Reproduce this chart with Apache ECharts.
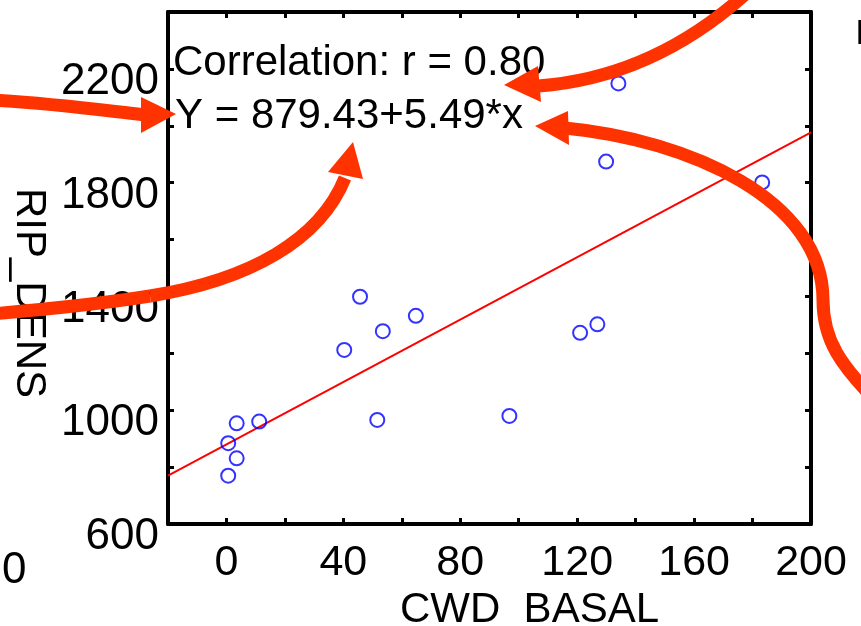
<!DOCTYPE html>
<html>
<head>
<meta charset="utf-8">
<script src="https://cdn.jsdelivr.net/npm/echarts@6/dist/echarts.min.js"></script>
<style>
html,body{margin:0;padding:0;background:#fff;}
#c{width:861px;height:626px;}
</style>
</head>
<body>
<div id="c"></div>
<script>
// ---- data ----
const cwdBasal = [134.1, 129.9, 183.3, 45.7, 64.8, 53.5, 40.3, 126.9, 121.0, 96.8, 51.6, 11.2, 3.5, 0.6, 3.5, 0.6];
const ripDens  = [2149, 1874, 1801, 1399, 1332, 1278, 1212, 1302, 1272, 980, 966, 960, 954, 884, 831, 770];
const fitX = [-20, 200];
const fitY = [770, 1977];
const xRange = [-20, 200];
const yRange = [600, 2400];
const xTickStep = 20, xLabelStep = 40;
const yTickStep = 200, yLabelStep = 400;
const corrText = 'Correlation: r = 0.80';
const eqText = 'Y = 879.43+5.49*x';
const xName = 'CWD  BASAL';
const yName = 'RIP_DENS';

const FONT = '"Liberation Sans", Arial, Helvetica, sans-serif';
const ARROW = '#ff3300';

const points = cwdBasal.map((x, i) => [x, ripDens[i]]);
const fitLine = fitX.map((x, i) => [x, fitY[i]]);

const lineStyle = {color: '#000', width: 4};
const tickStyle = {show: true, inside: true, length: 6, lineStyle: {color: '#000', width: 3}};

function arrowPath(p, w) {
  return {type: 'bezierCurve', z: 100, shape: {x1: p[0], y1: p[1], cpx1: p[2], cpy1: p[3], cpx2: p[4], cpy2: p[5], x2: p[6], y2: p[7]},
          style: {stroke: ARROW, lineWidth: w || 13, fill: null}};
}
function arrowHead(pts) {
  return {type: 'polygon', z: 101, shape: {points: pts}, style: {fill: ARROW}};
}

const chart = echarts.init(document.getElementById('c'), null, {renderer: 'canvas'});
chart.setOption({
  animation: false,
  backgroundColor: '#fff',
  grid: {left: 168, right: 50, top: 12, bottom: 102, containLabel: false, outerBoundsMode: 'none'},
  xAxis: [{
    type: 'value', position: 'bottom', min: xRange[0], max: xRange[1], interval: xTickStep,
    axisLine: {show: true, onZero: false, lineStyle: lineStyle}, axisTick: tickStyle, splitLine: {show: false},
    axisLabel: {color: '#000', fontSize: 43, fontFamily: FONT, margin: 18,
      formatter: v => (v >= 0 && v % xLabelStep === 0) ? String(v) : ''},
    name: xName, nameLocation: 'middle', nameGap: 60,
    nameTextStyle: {color: '#000', fontSize: 42, fontFamily: FONT, padding: [0, 0, 0, 80]}
  }, {
    type: 'value', position: 'top', min: xRange[0], max: xRange[1], interval: xTickStep,
    axisLine: {show: true, onZero: false, lineStyle: lineStyle}, axisTick: tickStyle, splitLine: {show: false},
    axisLabel: {show: false}
  }],
  yAxis: [{
    type: 'value', position: 'left', min: yRange[0], max: yRange[1], interval: yTickStep,
    axisLine: {show: true, onZero: false, lineStyle: lineStyle}, axisTick: tickStyle, splitLine: {show: false},
    axisLabel: {color: '#000', fontSize: 44, fontFamily: FONT, margin: 9, verticalAlign: 'top', lineHeight: 26,
      formatter: v => ((v - yRange[0]) % yLabelStep === 0 && v < yRange[1]) ? String(v) : ''},
    name: yName, nameLocation: 'middle', nameGap: 118, nameRotate: -90,
    nameTextStyle: {color: '#000', fontSize: 42, fontFamily: FONT, padding: [0, 0, 0, 50]}
  }, {
    type: 'value', position: 'right', min: yRange[0], max: yRange[1], interval: yTickStep,
    axisLine: {show: true, onZero: false, lineStyle: lineStyle}, axisTick: tickStyle, splitLine: {show: false},
    axisLabel: {show: false}
  }],
  series: [{
    type: 'line', data: fitLine, xAxisIndex: 0, yAxisIndex: 0, symbol: 'none',
    lineStyle: {color: '#ff0000', width: 2}, z: 2
  }, {
    type: 'scatter', data: points, xAxisIndex: 0, yAxisIndex: 0, symbol: 'circle', symbolSize: 14,
    itemStyle: {color: 'rgba(0,0,0,0)', borderColor: '#0000ff', borderWidth: 2}, z: 3
  }],
  graphic: [
    {type: 'text', left: 173, top: 42, z: 50, style: {text: corrText, fill: '#000', font: '42px ' + FONT}},
    {type: 'text', left: 175, top: 95, z: 50, style: {text: eqText, fill: '#000', font: '42px ' + FONT}},
    {type: 'text', left: 2, top: 549, z: 50, style: {text: '0', fill: '#000', font: '44px ' + FONT}},
    {type: 'text', left: 856, top: 17, z: 50, style: {text: 'I', fill: '#000', font: 'bold 35px ' + FONT}},
    // arrow to "0.80"
    arrowPath([538, 86, 620, 80, 690, 45, 750, -10]),
    arrowHead([[504, 85], [538, 66], [541, 102]]),
    // arrow to "*x"
    arrowPath([565, 128, 690, 140, 823, 200, 823, 300]),
    arrowPath([823, 300, 823, 340, 840, 365, 880, 405]),
    arrowHead([[535, 126], [568, 111], [569, 145]]),
    // arrow to "Y"
    arrowPath([-10, 100, 50, 103, 100, 110, 145, 115]),
    arrowHead([[176, 114], [141, 97], [141, 133]]),
    // arrow to "43"
    arrowPath([345, 178, 320, 240, 250, 280, 150, 296]),
    arrowPath([150, 296, 100, 304, 50, 309, -10, 314]),
    arrowHead([[353, 142], [328, 172], [363, 179]])
  ]
});
</script>
</body>
</html>
